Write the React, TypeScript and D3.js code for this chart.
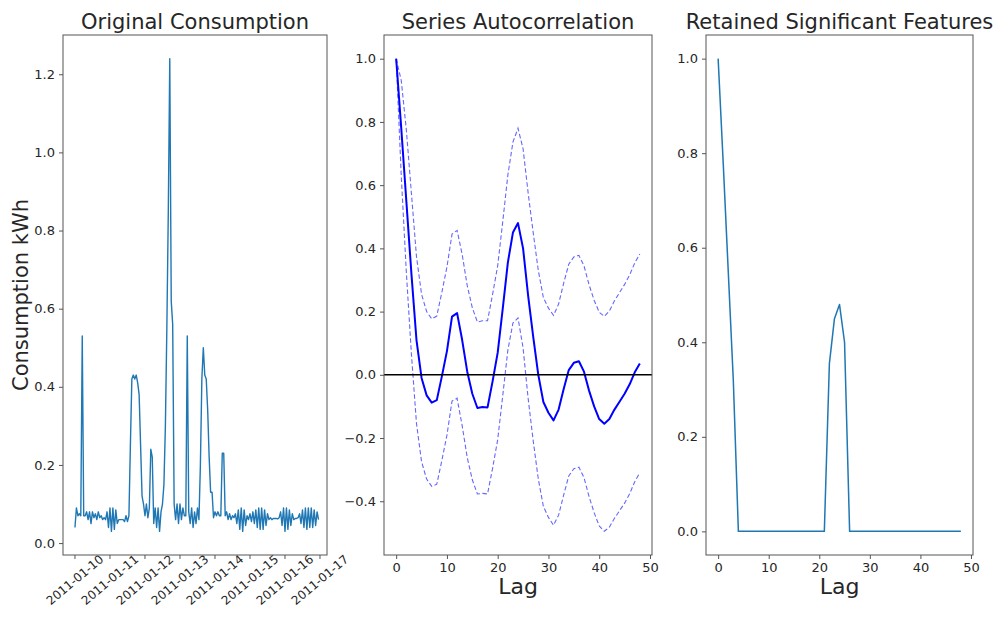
import * as React from 'react';
import { useEffect, useRef } from 'react';
import * as d3 from 'd3';

// hourly consumption, 2011-01-10 00:00 .. 2011-01-16 23:00
const HOURLY_KWH = [
  0.04, 0.09, 0.07, 0.075, 0.07, 0.53, 0.07, 0.07, 0.08, 0.06, 0.08, 0.05,
  0.08, 0.065, 0.075, 0.06, 0.08, 0.065, 0.07, 0.06, 0.065, 0.06, 0.08, 0.04,
  0.09, 0.03, 0.09, 0.035, 0.085, 0.05, 0.06, 0.06, 0.06, 0.06, 0.055, 0.07,
  0.055, 0.07, 0.25, 0.42, 0.43, 0.42, 0.43, 0.41, 0.38, 0.25, 0.12, 0.1,
  0.07, 0.1, 0.065, 0.09, 0.24, 0.22, 0.05, 0.09, 0.04, 0.09, 0.03, 0.08,
  0.1, 0.15, 0.3, 0.55, 0.85, 1.24, 0.62, 0.56, 0.1, 0.06, 0.1, 0.05,
  0.1, 0.06, 0.09, 0.07, 0.07, 0.53, 0.08, 0.05, 0.09, 0.04, 0.08, 0.05,
  0.09, 0.06, 0.2, 0.42, 0.5, 0.43, 0.42, 0.34, 0.22, 0.13, 0.13, 0.065,
  0.08, 0.07, 0.08, 0.07, 0.07, 0.23, 0.23, 0.07, 0.08, 0.06, 0.075, 0.06,
  0.07, 0.065, 0.075, 0.05, 0.085, 0.035, 0.09, 0.03, 0.085, 0.045, 0.07, 0.06,
  0.075, 0.055, 0.08, 0.05, 0.085, 0.04, 0.09, 0.035, 0.09, 0.035, 0.085, 0.045,
  0.075, 0.06, 0.065, 0.06, 0.063, 0.063, 0.063, 0.062, 0.065, 0.08, 0.045, 0.09,
  0.03, 0.09, 0.035, 0.085, 0.045, 0.075, 0.06, 0.063, 0.063, 0.065, 0.075, 0.05,
  0.085, 0.04, 0.09, 0.035, 0.09, 0.04, 0.09, 0.04, 0.085, 0.045, 0.08, 0.06,
];
const START_DATE = new Date(2011, 0, 10);
const DATE_TICKS = ['2011-01-10', '2011-01-11', '2011-01-12', '2011-01-13', '2011-01-14', '2011-01-15', '2011-01-16', '2011-01-17'];

// autocorrelation for lags 0..48 with its confidence band
const ACF = [
  1.0, 0.78, 0.55, 0.32, 0.11, -0.01, -0.065, -0.088, -0.08, -0.005, 0.075, 0.184,
  0.195, 0.11, 0.01, -0.06, -0.105, -0.102, -0.103, -0.02, 0.07, 0.21, 0.355, 0.45,
  0.48, 0.4, 0.25, 0.12, 0.0, -0.086, -0.12, -0.144, -0.11, -0.045, 0.015, 0.038,
  0.043, 0.01, -0.05, -0.1, -0.14, -0.155, -0.14, -0.11, -0.085, -0.06, -0.03, 0.008,
  0.036,
];
const ACF_UPPER = [
  1.0, 0.931, 0.775, 0.574, 0.374, 0.255, 0.2, 0.177, 0.186, 0.261, 0.341, 0.445,
  0.457, 0.381, 0.282, 0.212, 0.167, 0.171, 0.171, 0.255, 0.345, 0.485, 0.632, 0.736,
  0.78, 0.715, 0.575, 0.449, 0.33, 0.244, 0.211, 0.188, 0.224, 0.29, 0.35, 0.373,
  0.378, 0.345, 0.285, 0.236, 0.198, 0.185, 0.202, 0.234, 0.26, 0.286, 0.316, 0.354,
  0.382,
];
const ACF_LOWER = [
  1.0, 0.629, 0.325, 0.066, -0.154, -0.275, -0.33, -0.353, -0.346, -0.271, -0.191, -0.083,
  -0.074, -0.161, -0.262, -0.332, -0.377, -0.375, -0.377, -0.295, -0.205, -0.065, 0.078, 0.164,
  0.18, 0.085, -0.075, -0.209, -0.33, -0.416, -0.451, -0.476, -0.444, -0.38, -0.32, -0.297,
  -0.292, -0.325, -0.385, -0.436, -0.478, -0.495, -0.482, -0.454, -0.43, -0.406, -0.376, -0.338,
  -0.31,
];
// features kept (significant lags), others set to zero
const RETAINED = [
  1.0, 0.78, 0.55, 0.32, 0, 0, 0, 0, 0, 0, 0, 0,
  0, 0, 0, 0, 0, 0, 0, 0, 0, 0, 0.355, 0.45,
  0.48, 0.4, 0, 0, 0, 0, 0, 0, 0, 0, 0, 0,
  0, 0, 0, 0, 0, 0, 0, 0, 0, 0, 0, 0,
  0,
];
const LAG_TICKS = [0, 10, 20, 30, 40, 50];

const W = 998;
const H = 624;
const TOP = 35;
const BOTTOM = 555;
const FONT = 'DejaVu Sans, sans-serif';
const TEXT = '#262626';
const SPINE = '#555';

type Sel = d3.Selection<SVGGElement, unknown, null, undefined>;

function frame(g: Sel, left: number, right: number) {
  g.append('rect')
    .attr('x', left).attr('y', TOP)
    .attr('width', right - left).attr('height', BOTTOM - TOP)
    .attr('fill', 'none').attr('stroke', SPINE).attr('stroke-width', 1);
}

function yAxis(g: Sel, y: d3.ScaleLinear<number, number>, left: number, ticks: number[]) {
  const a = g.append('g').attr('transform', `translate(${left},0)`)
    .call(d3.axisLeft(y).tickValues(ticks).tickSize(4).tickPadding(4).tickFormat(d3.format('.1f')));
  a.select('.domain').remove();
  a.selectAll('line').attr('stroke', SPINE);
  a.selectAll('text').attr('font-family', FONT).attr('font-size', 13).attr('fill', TEXT);
}

function lagAxis(g: Sel, x: d3.ScaleLinear<number, number>) {
  const a = g.append('g').attr('transform', `translate(0,${BOTTOM})`)
    .call(d3.axisBottom(x).tickValues(LAG_TICKS).tickSize(4).tickPadding(4).tickFormat(d3.format('d')));
  a.select('.domain').remove();
  a.selectAll('line').attr('stroke', SPINE);
  a.selectAll('text').attr('font-family', FONT).attr('font-size', 13).attr('fill', TEXT);
  g.append('text')
    .attr('x', (x.range()[0] + x.range()[1]) / 2).attr('y', 594)
    .attr('text-anchor', 'middle').attr('font-family', FONT).attr('font-size', 22).attr('fill', TEXT)
    .text('Lag');
}

function title(g: Sel, cx: number, label: string) {
  g.append('text')
    .attr('x', cx).attr('y', 29)
    .attr('text-anchor', 'middle').attr('font-family', FONT).attr('font-size', 21).attr('fill', TEXT)
    .text(label);
}

const App: React.FC = () => {
  const svgRef = useRef<SVGSVGElement>(null);

  useEffect(() => {
    if (!svgRef.current) return;
    const svg = d3.select(svgRef.current);
    svg.selectAll('*').remove();
    const g = svg.append('g') as Sel;

    // ---- panel 1: original consumption
    const p1 = { left: 63, right: 327 };
    const dates = HOURLY_KWH.map((_, i) => d3.timeHour.offset(START_DATE, i));
    const x1 = d3.scaleTime()
      .domain([d3.timeMinute.offset(dates[0], -492), d3.timeMinute.offset(dates[dates.length - 1], 348)])
      .range([p1.left, p1.right]);
    const y1 = d3.scaleLinear().domain([-0.0305, 1.3005]).range([BOTTOM, TOP]);

    g.append('path')
      .datum(HOURLY_KWH)
      .attr('fill', 'none').attr('stroke', '#1f77b4').attr('stroke-width', 1.4).attr('stroke-linejoin', 'round')
      .attr('d', d3.line<number>().x((_, i) => x1(dates[i])).y(d => y1(d)));
    frame(g, p1.left, p1.right);
    yAxis(g, y1, p1.left, [0, 0.2, 0.4, 0.6, 0.8, 1.0, 1.2]);

    const parse = d3.timeParse('%Y-%m-%d');
    const xt = g.append('g');
    DATE_TICKS.forEach(s => {
      const px = x1(parse(s) as Date);
      xt.append('line').attr('x1', px).attr('x2', px).attr('y1', BOTTOM).attr('y2', BOTTOM + 4).attr('stroke', SPINE);
      xt.append('text')
        .attr('transform', `translate(${px},${580}) rotate(-40)`)
        .attr('text-anchor', 'middle').attr('dominant-baseline', 'central')
        .attr('font-family', FONT).attr('font-size', 12).attr('fill', TEXT)
        .text(s);
    });
    g.append('text')
      .attr('transform', `translate(28,${(TOP + BOTTOM) / 2}) rotate(-90)`)
      .attr('text-anchor', 'middle').attr('font-family', FONT).attr('font-size', 21).attr('fill', TEXT)
      .text('Consumption kWh');
    title(g, (p1.left + p1.right) / 2, 'Original Consumption');

    // ---- panel 2: autocorrelation
    const p2 = { left: 384, right: 652 };
    const x2 = d3.scaleLinear().domain([-2.4, 50.4]).range([p2.left, p2.right]);
    const y2 = d3.scaleLinear().domain([-0.57, 1.075]).range([BOTTOM, TOP]);
    const lag2 = d3.line<number>().x((_, i) => x2(i)).y(d => y2(d));
    [ACF_UPPER, ACF_LOWER].forEach(band => {
      g.append('path').datum(band)
        .attr('fill', 'none').attr('stroke', '#0000ff').attr('stroke-opacity', 0.6)
        .attr('stroke-width', 1.1).attr('stroke-dasharray', '4.5,2.5')
        .attr('d', lag2);
    });
    g.append('path').datum(ACF)
      .attr('fill', 'none').attr('stroke', '#0000ff').attr('stroke-width', 2).attr('stroke-linejoin', 'round')
      .attr('d', lag2);
    g.append('line')
      .attr('x1', p2.left).attr('x2', p2.right).attr('y1', y2(0)).attr('y2', y2(0))
      .attr('stroke', '#000').attr('stroke-width', 1.5);
    frame(g, p2.left, p2.right);
    yAxis(g, y2, p2.left, [-0.4, -0.2, 0, 0.2, 0.4, 0.6, 0.8, 1.0]);
    lagAxis(g, x2);
    title(g, (p2.left + p2.right) / 2, 'Series Autocorrelation');

    // ---- panel 3: retained significant features
    const p3 = { left: 706, right: 973 };
    const x3 = d3.scaleLinear().domain([-2.4, 50.4]).range([p3.left, p3.right]);
    const y3 = d3.scaleLinear().domain([-0.05, 1.05]).range([BOTTOM, TOP]);
    g.append('path').datum(RETAINED)
      .attr('fill', 'none').attr('stroke', '#1f77b4').attr('stroke-width', 1.5).attr('stroke-linejoin', 'round')
      .attr('d', d3.line<number>().x((_, i) => x3(i)).y(d => y3(d)));
    frame(g, p3.left, p3.right);
    yAxis(g, y3, p3.left, [0, 0.2, 0.4, 0.6, 0.8, 1.0]);
    lagAxis(g, x3);
    title(g, (p3.left + p3.right) / 2, 'Retained Significant Features');
  }, []);

  return (
    <svg
      ref={svgRef}
      width={W}
      height={H}
      viewBox={`0 0 ${W} ${H}`}
      style={{ position: 'absolute', left: 0, top: 0, background: '#fff' }}
    />
  );
};

export default App;
